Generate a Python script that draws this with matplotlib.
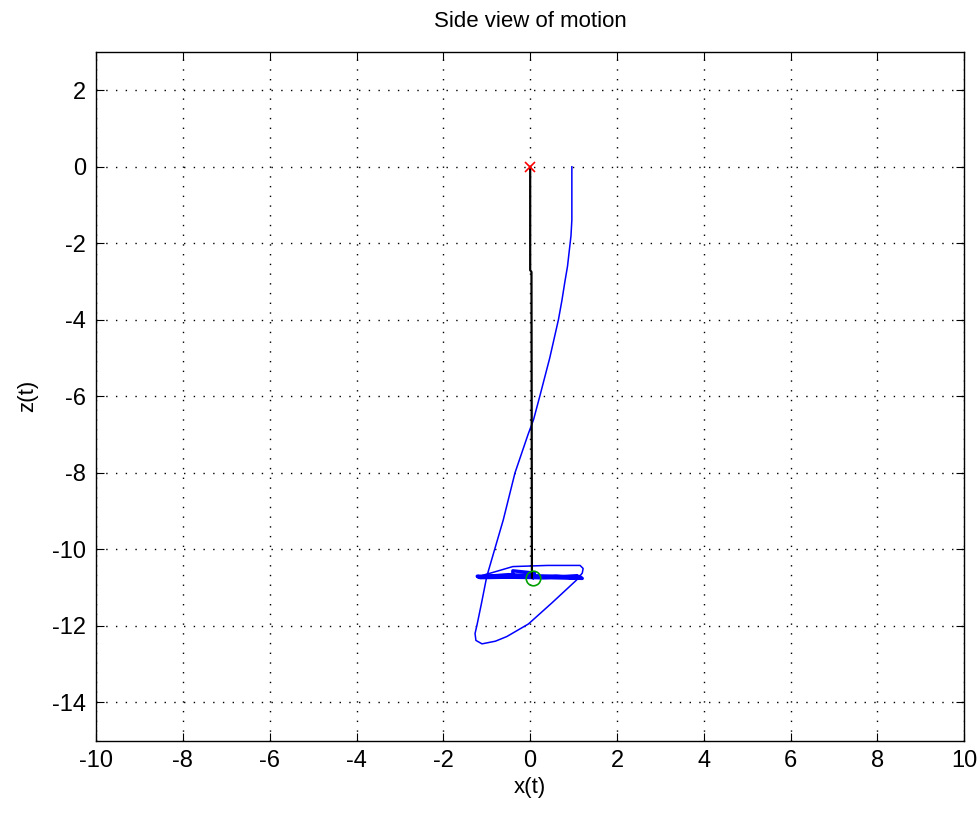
import numpy as np
import matplotlib
matplotlib.use("Agg")
import matplotlib.pyplot as plt

plt.rcParams['font.family'] = ['Liberation Sans', 'DejaVu Sans']
plt.rcParams['axes.unicode_minus'] = False

# bob trajectory (x, z)
traj_x = [0.96, 0.96, 0.94, 0.92, 0.86, 0.80, 0.73, 0.65, 0.45, 0.23, 0.08, -0.05, -0.35,
          -0.62, -0.80, -1.00, -1.12, -1.22, -1.27, -1.25, -1.11, -0.80, -0.54,
          -0.04, 0.50, 1.07, 1.20, 1.22, 1.15, 0.40, -0.40, -0.85, -1.10,
          1.15, 1.20, -1.22, -1.15, 1.10, 0.30, -1.20, -0.50, 1.00, 0.60,
          -0.40, -0.40, 0.10, 0.06]
traj_z = [0.00, -1.39, -1.80, -2.00, -2.60, -3.00, -3.50, -4.00, -5.00, -5.96, -6.60, -7.00, -8.00,
          -9.23, -9.93, -10.71, -11.40, -11.95, -12.20, -12.38, -12.47, -12.40, -12.28,
          -11.95, -11.40, -10.80, -10.62, -10.50, -10.42, -10.42, -10.45, -10.60, -10.68,
          -10.72, -10.76, -10.70, -10.74, -10.70, -10.74, -10.72, -10.66, -10.74, -10.70,
          -10.72, -10.56, -10.62, -10.74]

# rod from pivot to final bob position
rod_x = [0.0, 0.0, 0.03, 0.04]
rod_z = [0.0, -2.7, -2.75, -10.74]

pivot = (0.0, 0.0)
bob = (0.06, -10.74)

fig = plt.figure(figsize=(9.8, 8.13), dpi=100)
ax = fig.add_axes([0.098, 0.089, 0.886, 0.847])

ax.plot(traj_x, traj_z, color='#0000ff', lw=1.1)
ax.plot(traj_x[-14:], traj_z[-14:], color='#0000ff', lw=2.4)
ax.plot(rod_x, rod_z, color='#000000', lw=1.6)
ax.plot(*pivot, marker='x', color='#ff0000', ms=7, mew=1.2)
ax.plot(*bob, marker='o', mfc='none', mec='#00a000', ms=10.5, mew=1.2)

ax.set_xlim(-10, 10)
ax.set_ylim(-15, 3)
ax.set_xticks(np.arange(-10, 11, 2))
ax.set_yticks(np.arange(-14, 3, 2))
ax.grid(True, color='black', linestyle=(0, (1, 6)), lw=1.0)
ax.tick_params(direction='in', top=True, right=True, length=6, labelsize=17, pad=7)
for s in ax.spines.values():
    s.set_linewidth(1.0)

ax.set_title('Side view of motion', fontsize=16, pad=18)
ax.set_xlabel('x(t)', fontsize=16, labelpad=3)
ax.set_ylabel('z(t)', fontsize=16, labelpad=10)

fig.savefig('out.png', dpi=100)
